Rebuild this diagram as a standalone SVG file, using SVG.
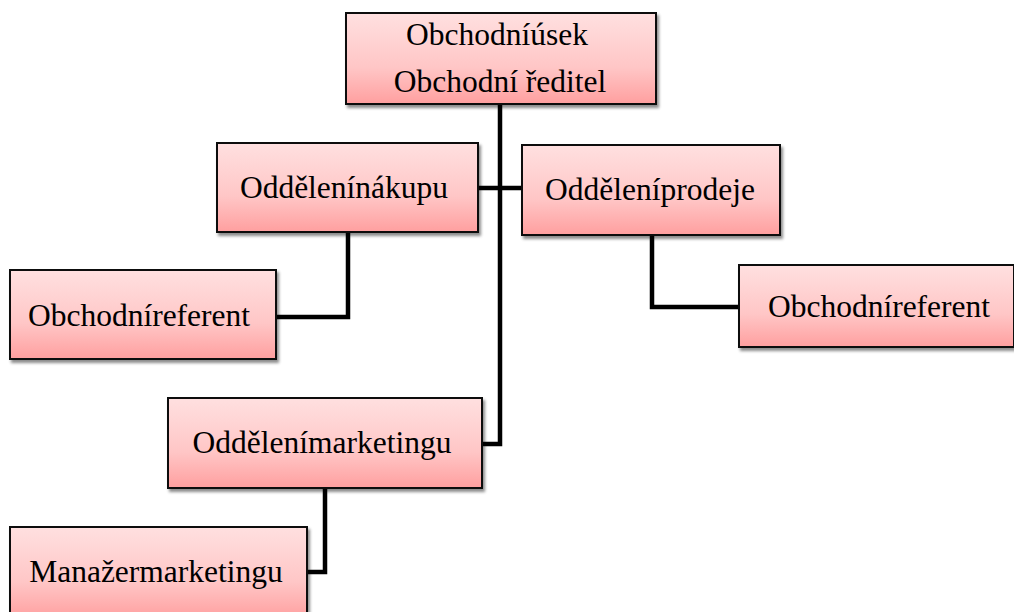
<svg xmlns="http://www.w3.org/2000/svg" width="1014" height="612" viewBox="0 0 1014 612">
  <defs>
    <linearGradient id="boxFill" x1="0" y1="0" x2="0" y2="1">
      <stop offset="0" stop-color="#ffe0e0"/>
      <stop offset="0.6" stop-color="#ffc6c6"/>
      <stop offset="1" stop-color="#ff9f9f"/>
    </linearGradient>
    <filter id="shadow" x="-10%" y="-10%" width="125%" height="135%">
      <feDropShadow dx="2" dy="3" stdDeviation="1.6" flood-color="#000" flood-opacity="0.45"/>
    </filter>
  </defs>
  <style>
    .box { fill: url(#boxFill); stroke: #111; stroke-width: 2; filter: url(#shadow); }
    .label { font-family: 'Liberation Serif', 'Times New Roman', serif; font-size: 31.5px; fill: #000; text-anchor: middle; }
    .link { fill: none; stroke: #000; stroke-width: 4.5; stroke-linejoin: miter; stroke-linecap: butt; }
  </style>

  <rect width="1014" height="612" fill="#fff"/>

  <!-- connectors -->
  <g id="connectors">
    <path class="link" d="M500 104 V444 H482"/>
    <path class="link" d="M478 188 H522"/>
    <path class="link" d="M348 232 V317 H276"/>
    <path class="link" d="M652 235 V307 H739"/>
    <path class="link" d="M325 488 V572 H307"/>
  </g>

  <g id="node-obchodni-usek">
    <rect class="box" x="346" y="13" width="310" height="91"/>
    <text class="label" x="497" y="45">Obchodníúsek</text>
    <text class="label" x="500" y="92">Obchodní ředitel</text>
  </g>

  <g id="node-oddeleni-nakupu">
    <rect class="box" x="217" y="143" width="261" height="89"/>
    <text class="label" x="344" y="198">Oddělenínákupu</text>
  </g>

  <g id="node-oddeleni-prodeje">
    <rect class="box" x="522" y="145" width="258" height="90"/>
    <text class="label" x="650" y="200">Odděleníprodeje</text>
  </g>

  <g id="node-referent-nakup">
    <rect class="box" x="10" y="270" width="266" height="89"/>
    <text class="label" x="139" y="326">Obchodníreferent</text>
  </g>

  <g id="node-referent-prodej">
    <rect class="box" x="739" y="265" width="275" height="82"/>
    <text class="label" x="879" y="317">Obchodníreferent</text>
  </g>

  <g id="node-oddeleni-marketingu">
    <rect class="box" x="168" y="398" width="314" height="90"/>
    <text class="label" x="322" y="453">Oddělenímarketingu</text>
  </g>

  <g id="node-manazer-marketingu">
    <rect class="box" x="10" y="527" width="297" height="92"/>
    <text class="label" x="156" y="582">Manažermarketingu</text>
  </g>
</svg>
